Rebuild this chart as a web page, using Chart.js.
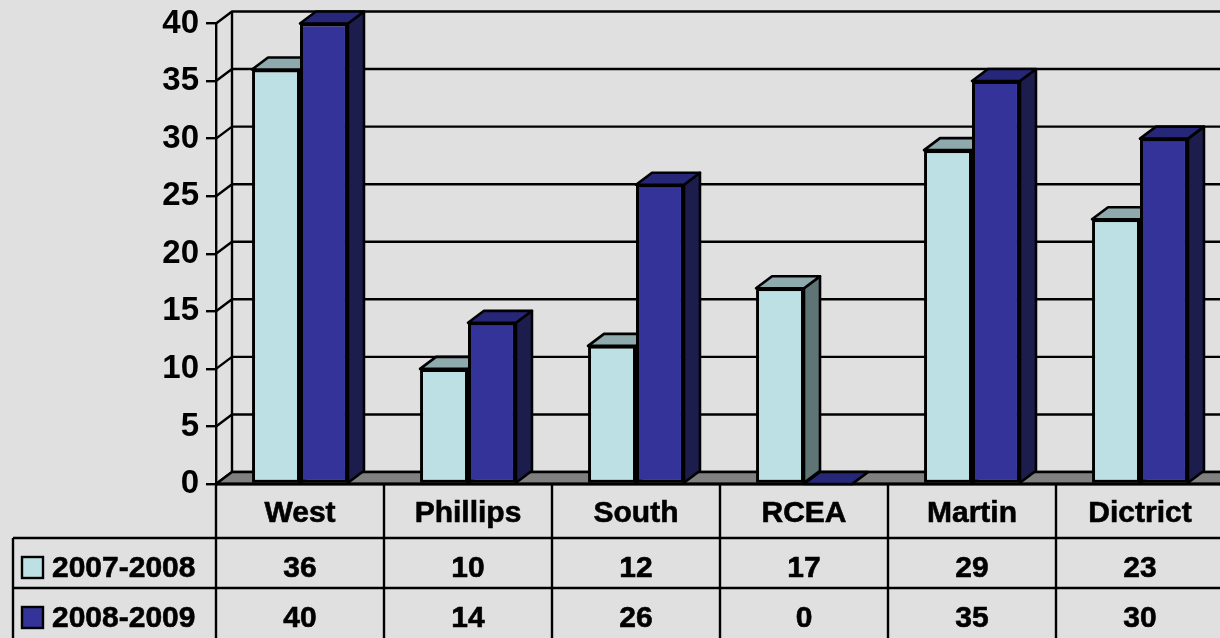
<!DOCTYPE html>
<html>
<head>
<meta charset="utf-8">
<script src="https://cdn.jsdelivr.net/npm/chart.js@4/dist/chart.umd.min.js"></script>
<style>
  html, body { margin: 0; padding: 0; background: #e0e0e0; overflow: hidden; }
  #wrap { position: absolute; left: 0; top: 0; width: 1240px; height: 638px; }
</style>
</head>
<body>
<div id="wrap"><canvas id="c" width="1240" height="638"></canvas></div>
<script>
const categories = ["West", "Phillips", "South", "RCEA", "Martin", "Dictrict"];
const seriesNames = ["2007-2008", "2008-2009"];
const values2007 = [36, 10, 12, 17, 29, 23];
const values2008 = [40, 14, 26, 0, 35, 30];
const yTicks = [0, 5, 10, 15, 20, 25, 30, 35, 40];

const FONT = "'Liberation Sans', Arial, sans-serif";
const DX = 16, DY = -12; // depth of the 3d look

const faces = [
  { front: "#bce0e3", top: "#8faaad", side: "#5f7474" },
  { front: "#333399", top: "#27277a", side: "#1c1c4d" },
];

function poly(ctx, pts, fill) {
  ctx.beginPath();
  ctx.moveTo(pts[0][0], pts[0][1]);
  for (const p of pts.slice(1)) ctx.lineTo(p[0], p[1]);
  ctx.closePath();
  ctx.fillStyle = fill;
  ctx.fill();
  ctx.stroke();
}

const depthPlugin = {
  id: "depth",
  beforeDatasetsDraw(chart) {
    const { ctx, chartArea: a, scales } = chart;
    const y = scales.y;
    ctx.save();
    ctx.strokeStyle = "#000";
    ctx.lineWidth = 2.4;
    ctx.lineJoin = "round";

    // back wall + gridlines
    ctx.beginPath();
    ctx.moveTo(a.left + DX, y.getPixelForValue(40) + DY);
    ctx.lineTo(a.left + DX, a.bottom + DY);
    for (const t of yTicks) {
      const py = y.getPixelForValue(t);
      ctx.moveTo(a.left, py);
      ctx.lineTo(a.left + DX, py + DY);
      ctx.lineTo(a.right + DX + 20, py + DY);
    }
    ctx.stroke();

    // floor
    poly(ctx, [[a.left, a.bottom], [a.right + 20, a.bottom], [a.right + 20 + DX, a.bottom + DY], [a.left + DX, a.bottom + DY]], "#808080");
    ctx.lineWidth = 3;
    ctx.beginPath();
    ctx.moveTo(a.left, a.bottom);
    ctx.lineTo(a.right + 20, a.bottom);
    ctx.stroke();
    ctx.lineWidth = 2.6;

    // top and side faces of the bars
    for (let i = 0; i < categories.length; i++) {
      for (let d = 0; d < 2; d++) {
        const bar = chart.getDatasetMeta(d).data[i];
        const l = bar.x - bar.width / 2, r = bar.x + bar.width / 2;
        const t = bar.y, b = bar.base;
        poly(ctx, [[r, t], [r + DX, t + DY], [r + DX, b + DY], [r, b]], faces[d].side);
        poly(ctx, [[l, t], [r, t], [r + DX, t + DY], [l + DX, t + DY]], faces[d].top);
      }
    }
    ctx.restore();
  },
};

const tablePlugin = {
  id: "table",
  afterDraw(chart) {
    const { ctx, chartArea: a, scales } = chart;
    const x = scales.x;
    const cw = x.getPixelForValue(1) - x.getPixelForValue(0);
    const rows = [a.bottom, 538, 588, 640];
    const baselines = [522, 577, 627];
    ctx.save();
    ctx.strokeStyle = "#000";
    ctx.lineWidth = 2.4;
    ctx.beginPath();
    for (let i = 0; i <= categories.length; i++) {
      const ex = Math.round(x.getPixelForValue(0) - cw / 2 + i * cw);
      ctx.moveTo(ex, rows[0]);
      ctx.lineTo(ex, 640);
    }
    ctx.moveTo(13, rows[1]); ctx.lineTo(1240, rows[1]);
    ctx.moveTo(13, rows[2]); ctx.lineTo(1240, rows[2]);
    ctx.moveTo(13, rows[1]); ctx.lineTo(13, 640);
    ctx.stroke();

    ctx.fillStyle = "#000";
    ctx.strokeStyle = "#000";
    ctx.lineWidth = 0.6;
    ctx.font = "bold 30px " + FONT;
    ctx.textAlign = "center";
    ctx.textBaseline = "alphabetic";
    const series = [values2007, values2008];
    const txt = (s, px, py) => { ctx.fillText(s, px, py); ctx.strokeText(s, px, py); };
    categories.forEach((c, i) => {
      const cx = x.getPixelForValue(i);
      txt(c, cx, baselines[0]);
      txt(String(series[0][i]), cx, baselines[1]);
      txt(String(series[1][i]), cx, baselines[2]);
    });

    // legend keys in the first column
    ctx.textAlign = "left";
    seriesNames.forEach((name, d) => {
      const top = d === 0 ? 557 : 607;
      ctx.lineWidth = 2.4;
      ctx.fillStyle = faces[d].front;
      ctx.fillRect(22, top, 21, 21);
      ctx.strokeRect(22, top, 21, 21);
      ctx.fillStyle = "#000";
      ctx.lineWidth = 0.6;
      txt(name, 52, baselines[d + 1]);
    });
    ctx.restore();
  },
};

new Chart(document.getElementById("c"), {
  type: "bar",
  data: {
    labels: categories,
    datasets: [
      { label: seriesNames[0], data: values2007, backgroundColor: faces[0].front },
      { label: seriesNames[1], data: values2008, backgroundColor: faces[1].front },
    ],
  },
  options: {
    responsive: false,
    animation: false,
    layout: { padding: { top: 20, bottom: 154, left: 0, right: 16 } },
    datasets: {
      bar: {
        categoryPercentage: 0.571,
        barPercentage: 1,
        borderColor: "#000",
        borderWidth: 3,
        borderSkipped: false,
      },
    },
    plugins: { legend: { display: false }, tooltip: { enabled: false } },
    scales: {
      x: { type: "category", display: false, offset: true },
      y: {
        min: 0,
        max: 40,
        afterFit(s) { s.width = 216; },
        afterBuildTicks(s) { s.ticks = yTicks.map(v => ({ value: v })); },
        ticks: {
          color: "#000",
          padding: 7,
          font: { family: FONT, size: 33, weight: "bold", lineHeight: 1 },
        },
        grid: { drawOnChartArea: false, color: "#000", lineWidth: 2.4, tickLength: 10 },
        border: { color: "#000", width: 2.4 },
      },
    },
  },
  plugins: [depthPlugin, tablePlugin],
});
</script>
</body>
</html>
